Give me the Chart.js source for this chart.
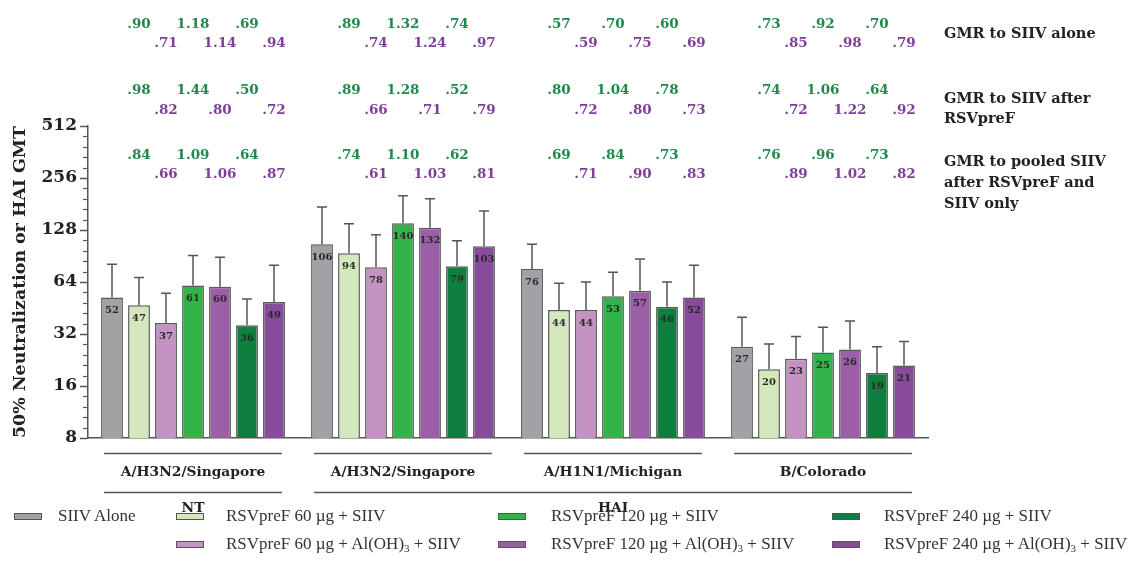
<!DOCTYPE html>
<html><head><meta charset="utf-8">
<script src="https://cdn.jsdelivr.net/npm/chart.js@4.4.1/dist/chart.umd.min.js"></script>
<style>
body{margin:0;background:#fff;}
#wrap{position:relative;width:1128px;height:584px;overflow:hidden;background:#fff;}
canvas{position:absolute;left:0;top:0;}
.lg{position:absolute;font-family:"Liberation Serif",serif;font-size:17px;color:#333;white-space:nowrap;line-height:20px;}
.lg sub{font-size:11px;vertical-align:-3px;line-height:0;}
.sw{position:absolute;width:26px;height:5px;border:1.5px solid #555;}
</style></head><body>
<div id="wrap"><canvas id="c" width="1128" height="584"></canvas><div id="legend"></div></div>
<script>
// ---------- data ----------
const categories = ['A/H3N2/Singapore', 'A/H3N2/Singapore', 'A/H1N1/Michigan', 'B/Colorado'];
const assayLabels = ['NT', 'HAI'];
const assayGroupStart = [0, 1];   // first category index of each assay
const assayGroupEnd = [0, 3];     // last category index of each assay
const seriesNames = [
  'SIIV Alone',
  'RSVpreF 60 µg + SIIV',
  'RSVpreF 60 µg + Al(OH)3 + SIIV',
  'RSVpreF 120 µg + SIIV',
  'RSVpreF 120 µg + Al(OH)3 + SIIV',
  'RSVpreF 240 µg + SIIV',
  'RSVpreF 240 µg + Al(OH)3 + SIIV'
];
const siivAlone   = [52, 106, 76, 27];
const rsv60       = [47, 94, 44, 20];
const rsv60Al     = [37, 78, 44, 23];
const rsv120      = [61, 140, 53, 25];
const rsv120Al    = [60, 132, 57, 26];
const rsv240      = [36, 79, 46, 19];
const rsv240Al    = [49, 103, 52, 21];
const siivAloneUpper = [81, 174, 106, 40];
const rsv60Upper     = [68, 139, 63, 28];
const rsv60AlUpper   = [55, 120, 64, 31];
const rsv120Upper    = [91, 202, 73, 35];
const rsv120AlUpper  = [89, 194, 87, 38];
const rsv240Upper    = [51, 111, 64, 27];
const rsv240AlUpper  = [80, 165, 80, 29];
const yTicks = [8, 16, 32, 64, 128, 256, 512];

// GMR rows: per category, values for [60,120,240] (green = no adjuvant, purple = Al(OH)3)
const gmrRowLabels = [['GMR to SIIV alone'], ['GMR to SIIV after', 'RSVpreF'], ['GMR to pooled SIIV', 'after RSVpreF and', 'SIIV only']];
const gmrAloneGreen   = [[0.90, 1.18, 0.69], [0.89, 1.32, 0.74], [0.57, 0.70, 0.60], [0.73, 0.92, 0.70]];
const gmrAlonePurple  = [[0.71, 1.14, 0.94], [0.74, 1.24, 0.97], [0.59, 0.75, 0.69], [0.85, 0.98, 0.79]];
const gmrAfterGreen   = [[0.98, 1.44, 0.50], [0.89, 1.28, 0.52], [0.80, 1.04, 0.78], [0.74, 1.06, 0.64]];
const gmrAfterPurple  = [[0.82, 0.80, 0.72], [0.66, 0.71, 0.79], [0.72, 0.80, 0.73], [0.72, 1.22, 0.92]];
const gmrPooledGreen  = [[0.84, 1.09, 0.64], [0.74, 1.10, 0.62], [0.69, 0.84, 0.73], [0.76, 0.96, 0.73]];
const gmrPooledPurple = [[0.66, 1.06, 0.87], [0.61, 1.03, 0.81], [0.71, 0.90, 0.83], [0.89, 1.02, 0.82]];

// ---------- styles / layout ----------
const seriesValues = [siivAlone, rsv60, rsv60Al, rsv120, rsv120Al, rsv240, rsv240Al];
const seriesUpper = [siivAloneUpper, rsv60Upper, rsv60AlUpper, rsv120Upper, rsv120AlUpper, rsv240Upper, rsv240AlUpper];
const colors = ['#a0a2a6', '#d5e7bd', '#c592c4', '#33b44a', '#9b5ea7', '#0f7f3f', '#884b9b'];
const GREEN = '#1f8a4c', PURPLE = '#7f3f98', INK = '#222', LINE = '#555';
const gmrRows = [
  {green: gmrAloneGreen, purple: gmrAlonePurple, yG: 24, yP: 43, labelY: [34]},
  {green: gmrAfterGreen, purple: gmrAfterPurple, yG: 90, yP: 110, labelY: [99, 119]},
  {green: gmrPooledGreen, purple: gmrPooledPurple, yG: 155, yP: 174, labelY: [162, 183, 204]}
];
const fmt = v => v.toFixed(2).replace(/^0/, '');
const BOLD = '"DejaVu Serif", serif';

const overlay = {
  id: 'overlay',
  afterDatasetsDraw(chart) {
    const ctx = chart.ctx, ys = chart.scales.y;
    ctx.save();
    chart.data.datasets.forEach((ds, i) => {
      const meta = chart.getDatasetMeta(i);
      meta.data.forEach((bar, j) => {
        const top = ys.getPixelForValue(seriesUpper[i][j]);
        ctx.strokeStyle = LINE; ctx.lineWidth = 1.5;
        ctx.beginPath();
        ctx.moveTo(bar.x, bar.y); ctx.lineTo(bar.x, top);
        ctx.moveTo(bar.x - 5, top); ctx.lineTo(bar.x + 5, top);
        ctx.stroke();
        ctx.fillStyle = '#2a2a2a';
        ctx.font = '600 10px ' + BOLD;
        ctx.textAlign = 'center'; ctx.textBaseline = 'middle';
        ctx.fillText(String(ds.data[j]), bar.x, bar.y + 13);
      });
    });
    ctx.restore();
  },
  afterDraw(chart) {
    const ctx = chart.ctx, ys = chart.scales.y, area = chart.chartArea;
    ctx.save();
    // minor ticks
    ctx.strokeStyle = LINE; ctx.lineWidth = 1.2;
    for (let t = 0; t < yTicks.length - 1; t++) {
      for (let k = 1; k < 5; k++) {
        const v = yTicks[t] * Math.pow(yTicks[t + 1] / yTicks[t], k / 5);
        const py = Math.round(ys.getPixelForValue(v)) + 0.5;
        ctx.beginPath(); ctx.moveTo(area.left - 5, py); ctx.lineTo(area.left, py); ctx.stroke();
      }
    }
    // group brackets and labels
    const m0 = chart.getDatasetMeta(0), m6 = chart.getDatasetMeta(6);
    const leftOf = g => m0.data[g].x - m0.data[g].width / 2 + 3;
    const rightOf = g => m6.data[g].x + m6.data[g].width / 2 - 3;
    ctx.strokeStyle = LINE; ctx.lineWidth = 1.5;
    ctx.fillStyle = INK; ctx.textAlign = 'center'; ctx.textBaseline = 'middle';
    ctx.font = 'bold 13.8px ' + BOLD;
    categories.forEach((c, g) => {
      const l = leftOf(g), r = rightOf(g);
      ctx.beginPath(); ctx.moveTo(l, 453.5); ctx.lineTo(r, 453.5); ctx.stroke();
      ctx.fillText(c, (l + r) / 2, 472);
    });
    assayLabels.forEach((a, k) => {
      const l = leftOf(assayGroupStart[k]), r = rightOf(assayGroupEnd[k]);
      ctx.beginPath(); ctx.moveTo(l, 492.5); ctx.lineTo(r, 492.5); ctx.stroke();
      const cx = assayGroupStart[k] === assayGroupEnd[k] ? (l + r) / 2 :
        chart.scales.x.getPixelForValue(Math.round((assayGroupStart[k] + assayGroupEnd[k]) / 2));
      ctx.fillText(a, cx, 508);
    });
    // GMR annotations
    ctx.font = 'bold 13.5px ' + BOLD;
    gmrRows.forEach(row => {
      categories.forEach((c, g) => {
        [0, 1, 2].forEach(d => {
          const gx = chart.getDatasetMeta(1 + 2 * d).data[g].x;
          const px = chart.getDatasetMeta(2 + 2 * d).data[g].x;
          ctx.fillStyle = GREEN; ctx.fillText(fmt(row.green[g][d]), gx, row.yG);
          ctx.fillStyle = PURPLE; ctx.fillText(fmt(row.purple[g][d]), px, row.yP);
        });
      });
    });
    ctx.fillStyle = INK; ctx.textAlign = 'left';
    ctx.font = 'bold 14.5px ' + BOLD;
    gmrRowLabels.forEach((lines, r) => {
      lines.forEach((t, k) => ctx.fillText(t, 944, gmrRows[r].labelY[k]));
    });
    ctx.restore();
  }
};

new Chart(document.getElementById('c'), {
  type: 'bar',
  data: {
    labels: categories,
    datasets: seriesNames.map((n, i) => ({
      label: n, data: seriesValues[i], backgroundColor: colors[i],
      borderColor: '#5a5a5a', borderWidth: 1.5,
      categoryPercentage: 0.9, barPercentage: 0.81
    }))
  },
  options: {
    responsive: false, animation: false,
    layout: {padding: {left: 0, top: 126, right: 200, bottom: 146}},
    plugins: {legend: {display: false}, tooltip: {enabled: false}},
    scales: {
      x: {
        grid: {display: false, drawTicks: false},
        ticks: {display: false},
        border: {display: true, color: LINE, width: 1.5},
        afterFit: s => { s.height = 0; }
      },
      y: {
        type: 'logarithmic', min: 8, max: 512,
        afterBuildTicks: s => { s.ticks = yTicks.map(v => ({value: v})); },
        afterFit: s => { s.width = 88; },
        ticks: {
          callback: v => String(v), color: INK, padding: 3,
          font: {family: BOLD, size: 17, weight: 'bold'}
        },
        grid: {drawOnChartArea: false, drawTicks: true, tickLength: 8, tickColor: LINE, tickWidth: 1.5},
        border: {display: true, color: LINE, width: 1.5},
        title: {
          display: true, text: '50% Neutralization or HAI GMT', color: INK,
          font: {family: BOLD, size: 17.4, weight: 'bold'}, padding: {top: 10, bottom: 0}
        }
      }
    }
  },
  plugins: [overlay]
});

// ---------- HTML legend ----------
const legendCol = [0, 1, 1, 2, 2, 3, 3];
const legendRow = [0, 0, 1, 0, 1, 0, 1];
const swatchX = [14, 176, 498, 832];
const textX = [58, 226, 551, 884];
const rowY = [517, 545];
const lg = document.getElementById('legend');
seriesNames.forEach((n, i) => {
  const sw = document.createElement('div');
  sw.className = 'sw';
  sw.style.left = swatchX[legendCol[i]] + 'px';
  sw.style.top = (rowY[legendRow[i]] - 4) + 'px';
  sw.style.background = colors[i];
  lg.appendChild(sw);
  const t = document.createElement('div');
  t.className = 'lg';
  t.style.left = textX[legendCol[i]] + 'px';
  t.style.top = (rowY[legendRow[i]] - 11) + 'px';
  t.innerHTML = n.replace('Al(OH)3', 'Al(OH)<sub>3</sub>');
  lg.appendChild(t);
});
</script>
</body></html>
